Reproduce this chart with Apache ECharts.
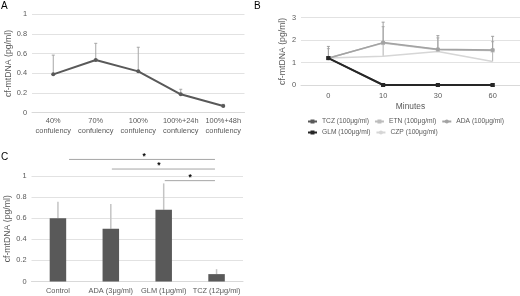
<!DOCTYPE html>
<html>
<head>
<meta charset="utf-8">
<script src="https://cdn.jsdelivr.net/npm/echarts@6/dist/echarts.min.js"></script>
<style>
  html, body { margin: 0; padding: 0; background: #fff; }
  #chart { width: 520px; height: 296px; }
</style>
</head>
<body>
<div id="chart"></div>
<script>
// panel A - confluency
const aCats = ['40%\nconfulency', '70%\nconfulency', '100%\nconfulency', '100%+24h\nconfulency', '100%+48h\nconfulency'];
const aMean = [0.39, 0.535, 0.42, 0.187, 0.068];
const aHigh = [0.585, 0.705, 0.665, 0.238, 0.085];

// panel B - minutes
const bCats = ['0', '10', '30', '60'];
const tcz = [1.2, 0, 0, 0];
const etn = [1.2, 1.87, 1.57, 1.54];
const ada = [1.19, 1.89, 1.59, 1.56];
const glm = [1.2, 0, 0, 0];
const czp = [1.2, 1.28, 1.49, 1.05];
const adaHigh = [1.72, 2.8, 2.2, 2.17];
const czpHigh = [1.62, 2.6, 2.1, 1.93];

// panel C - treatments
const cCats = ['Control', 'ADA (3μg/ml)', 'GLM (1μg/ml)', 'TCZ (12μg/ml)'];
const cMean = [0.6, 0.5, 0.68, 0.07];
const cHigh = [0.755, 0.735, 0.93, 0.117];
// significance brackets (x in category index units)
const sigFrom = [0.21, 1.02, 2.02];
const sigTo = [2.97, 2.97, 2.97];
const sigLevel = [1.157, 1.066, 0.956];
const starX = [1.63, 1.91, 2.5];

const FONT = 'Liberation Sans, Arial, sans-serif';
const TXT = '#595959';
const GRID = '#e2e2e2';

function errBars(color, cap, width) {
  return function (params, api) {
    const lo = api.coord([api.value(0), api.value(1)]);
    const hi = api.coord([api.value(0), api.value(2)]);
    const style = { stroke: color, lineWidth: width };
    const children = [{ type: 'line', shape: { x1: lo[0], y1: lo[1], x2: hi[0], y2: hi[1] }, style: style }];
    if (cap > 0) {
      children.push({ type: 'line', shape: { x1: hi[0] - cap, y1: hi[1], x2: hi[0] + cap, y2: hi[1] }, style: style });
    }
    return { type: 'group', children: children };
  };
}

function yAxis(gridIndex, max, interval, gap) {
  return {
    gridIndex: gridIndex, type: 'value', min: 0, max: max, interval: interval,
    name: 'cf-mtDNA (pg/ml)', nameLocation: 'middle', nameGap: gap,
    nameTextStyle: { fontFamily: FONT, fontSize: 8.7, color: TXT },
    axisLine: { show: false }, axisTick: { show: false },
    axisLabel: { fontFamily: FONT, fontSize: 7.4, color: TXT, margin: 5 },
    splitLine: { lineStyle: { color: GRID } }
  };
}

function catAxis(gridIndex, data, margin) {
  return {
    gridIndex: gridIndex, type: 'category', data: data,
    axisTick: { show: false },
    axisLine: { lineStyle: { color: '#d9d9d9' } },
    axisLabel: { fontFamily: FONT, fontSize: 7.4, color: TXT, margin: margin, interval: 0, lineHeight: 9.5 }
  };
}

const chart = echarts.init(document.getElementById('chart'));

const bX = catAxis(1, bCats, 6);
bX.name = 'Minutes';
bX.nameLocation = 'middle';
bX.nameGap = 18;
bX.nameTextStyle = { fontFamily: FONT, fontSize: 8.4, color: TXT };

const sigX = { gridIndex: 2, type: 'value', min: -0.5, max: 3.5, show: false };

const option = {
  animation: false,
  title: [
    { text: 'A', left: 1, top: 1, padding: 0, textStyle: { fontFamily: FONT, fontSize: 10, fontWeight: 'normal', color: '#000' } },
    { text: 'B', left: 254, top: 1, padding: 0, textStyle: { fontFamily: FONT, fontSize: 10, fontWeight: 'normal', color: '#000' } },
    { text: 'C', left: 1, top: 152, padding: 0, textStyle: { fontFamily: FONT, fontSize: 10, fontWeight: 'normal', color: '#000' } }
  ],
  legend: [
    {
      data: ['TCZ (100μg/ml)', 'ETN (100μg/ml)', 'ADA (100μg/ml)'],
      left: 307, top: 118, itemWidth: 9, itemHeight: 5, itemGap: 5, padding: 0,
      textStyle: { fontFamily: FONT, fontSize: 6.7, color: TXT }
    },
    {
      data: ['GLM (100μg/ml)', 'CZP (100μg/ml)'],
      left: 307, top: 129, itemWidth: 9, itemHeight: 5, itemGap: 5, padding: 0,
      textStyle: { fontFamily: FONT, fontSize: 6.7, color: TXT }
    }
  ],
  grid: [
    { left: 32, top: 14.3, width: 212.5, height: 98.4 },
    { left: 301, top: 17.7, width: 219, height: 67.3 },
    { left: 31.5, top: 176, width: 211.5, height: 106.5 }
  ],
  xAxis: [catAxis(0, aCats, 4), bX, catAxis(2, cCats, 5), sigX],
  yAxis: [yAxis(0, 1, 0.2, 14), yAxis(1, 3, 1, 14), yAxis(2, 1, 0.2, 19)],
  series: [
    // A
    {
      type: 'custom', xAxisIndex: 0, yAxisIndex: 0, z: 1,
      renderItem: errBars('#a6a6a6', 1.5, 1),
      data: aMean.map((v, i) => [i, v, aHigh[i]])
    },
    {
      type: 'line', xAxisIndex: 0, yAxisIndex: 0, z: 3, data: aMean,
      symbol: 'circle', symbolSize: 4, color: '#595959',
      lineStyle: { width: 2, color: '#595959' }
    },
    // B
    {
      type: 'custom', xAxisIndex: 1, yAxisIndex: 1, z: 1,
      renderItem: errBars('#b0b0b0', 1.5, 1),
      data: czp.map((v, i) => [i, v, czpHigh[i]])
    },
    {
      type: 'custom', xAxisIndex: 1, yAxisIndex: 1, z: 1,
      renderItem: errBars('#a0a0a0', 1.5, 1),
      data: ada.map((v, i) => [i, v, adaHigh[i]])
    },
    {
      name: 'CZP (100μg/ml)', type: 'line', xAxisIndex: 1, yAxisIndex: 1, z: 2, data: czp,
      symbol: 'none', color: '#d6d6d6', lineStyle: { width: 1.5, color: '#d6d6d6' }
    },
    {
      name: 'ETN (100μg/ml)', type: 'line', xAxisIndex: 1, yAxisIndex: 1, z: 2, data: etn,
      symbol: 'rect', symbolSize: 4, color: '#bdbdbd', lineStyle: { width: 1.5, color: '#bdbdbd' }
    },
    {
      name: 'ADA (100μg/ml)', type: 'line', xAxisIndex: 1, yAxisIndex: 1, z: 3, data: ada,
      symbol: 'circle', symbolSize: 4, color: '#a3a3a3', lineStyle: { width: 1.5, color: '#a3a3a3' }
    },
    {
      name: 'TCZ (100μg/ml)', type: 'line', xAxisIndex: 1, yAxisIndex: 1, z: 4, data: tcz,
      symbol: 'rect', symbolSize: 4, color: '#595959', lineStyle: { width: 1.5, color: '#595959' }
    },
    {
      name: 'GLM (100μg/ml)', type: 'line', xAxisIndex: 1, yAxisIndex: 1, z: 5, data: glm,
      symbol: 'rect', symbolSize: 4, color: '#262626', lineStyle: { width: 2, color: '#262626' }
    },
    // C
    {
      type: 'custom', xAxisIndex: 2, yAxisIndex: 2, z: 1,
      renderItem: errBars('#c4c4c4', 0, 1.5),
      data: cMean.map((v, i) => [i, v, cHigh[i]])
    },
    {
      type: 'bar', xAxisIndex: 2, yAxisIndex: 2, z: 2, data: cMean,
      barWidth: 16.5, itemStyle: { color: '#595959' }
    },
    {
      type: 'custom', xAxisIndex: 3, yAxisIndex: 2, z: 3,
      renderItem: function (params, api) {
        const a = api.coord([api.value(0), api.value(2)]);
        const b = api.coord([api.value(1), api.value(2)]);
        const s = api.coord([api.value(3), api.value(2)]);
        return {
          type: 'group',
          children: [
            { type: 'line', shape: { x1: a[0], y1: a[1], x2: b[0], y2: b[1] }, style: { stroke: '#a6a6a6', lineWidth: 1 } },
            { type: 'text', x: s[0], y: s[1] - 3, style: { text: '*', fontFamily: FONT, fontSize: 8.5, fontWeight: 'bold', fill: '#000', align: 'center', verticalAlign: 'middle' } }
          ]
        };
      },
      data: sigFrom.map((v, i) => [v, sigTo[i], sigLevel[i], starX[i]])
    }
  ]
};

chart.setOption(option);
</script>
</body>
</html>
